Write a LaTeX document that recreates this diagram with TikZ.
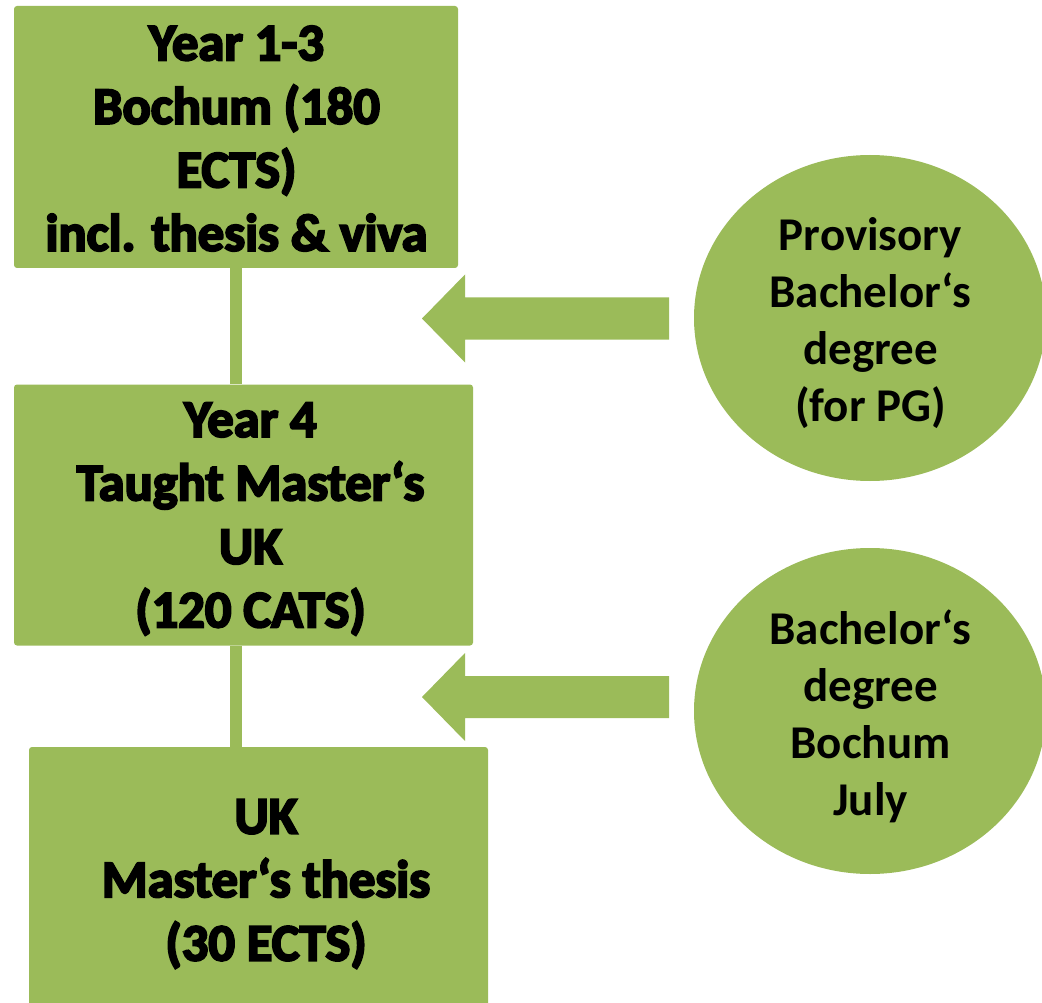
\documentclass[tikz,border=0pt]{standalone}
\usepackage{fontspec}
\setmainfont{Carlito}
\newfontface\heavy{Carlito Bold}[FakeBold=4]
\newfontface\circfont{Carlito Bold}
\definecolor{ogreen}{HTML}{9BBB59}
\tikzset{
  box/.style={fill=ogreen, rounded corners=3pt, align=center, inner sep=0pt,
    font=\heavy\fontsize{52.5}{63.5}\selectfont},
  circ/.style={ellipse, fill=ogreen, inner sep=0pt, align=center,
    minimum width=352pt, minimum height=326pt},
  ctext/.style={align=center, inner sep=0pt,
    font=\circfont\fontsize{47}{57}\selectfont},
  link/.style={draw=ogreen, line width=12pt},
  blockarrow/.style={fill=ogreen}
}
\usetikzlibrary{shapes.geometric}
\begin{document}
\begin{tikzpicture}[x=1pt,y=-1pt]
\useasboundingbox (0,0) rectangle (1042,1003);
\clip (0,0) rectangle (1042,1003);
\node[box, minimum width=444pt, minimum height=262pt] (b1) at (236,137) {};
\node[box] (t1) at (236.5,138.5) {Year 1-3\\Bochum (180\\ECTS)\\incl. thesis \& viva};
\node[box, minimum width=459pt, minimum height=261pt] (b2) at (243.5,515) {};
\node[box] (t2) at (250.5,519) {Year 4\\Taught Master‘s\\UK\\(120 CATS)};
\node[box, minimum width=459pt, minimum height=266pt] (b3) at (258.5,880) {};
\node[box] (t3) at (266,884) {UK\\Master‘s thesis\\(30 ECTS)};
\node[circ] (c1) at (870,318) {};
\node[ctext] (ct1) at (870.5,323) {Provisory\\Bachelor‘s\\degree\\(for PG)};
\node[circ] (c2) at (870,711) {};
\node[ctext] (ct2) at (870.5,716) {Bachelor‘s\\degree\\Bochum\\July};
\draw[link] (b1.south) -- (b1.south |- b2.north);
\draw[link] (b1.south |- b2.south) -- (b1.south |- b3.north);
\coordinate (a1) at (669,318.5);
\coordinate (a2) at (669,697);
\fill[blockarrow] (a1) ++(0,-21) -- ++(-204,0) -- ++(0,-23) -- (422,318.5)
  -- (465,362.5) -- ++(0,-23) -- ++(204,0) -- cycle;
\fill[blockarrow] (a2) ++(0,-21) -- ++(-204,0) -- ++(0,-23) -- (422,697)
  -- (465,741) -- ++(0,-23) -- ++(204,0) -- cycle;
\end{tikzpicture}
\end{document}
